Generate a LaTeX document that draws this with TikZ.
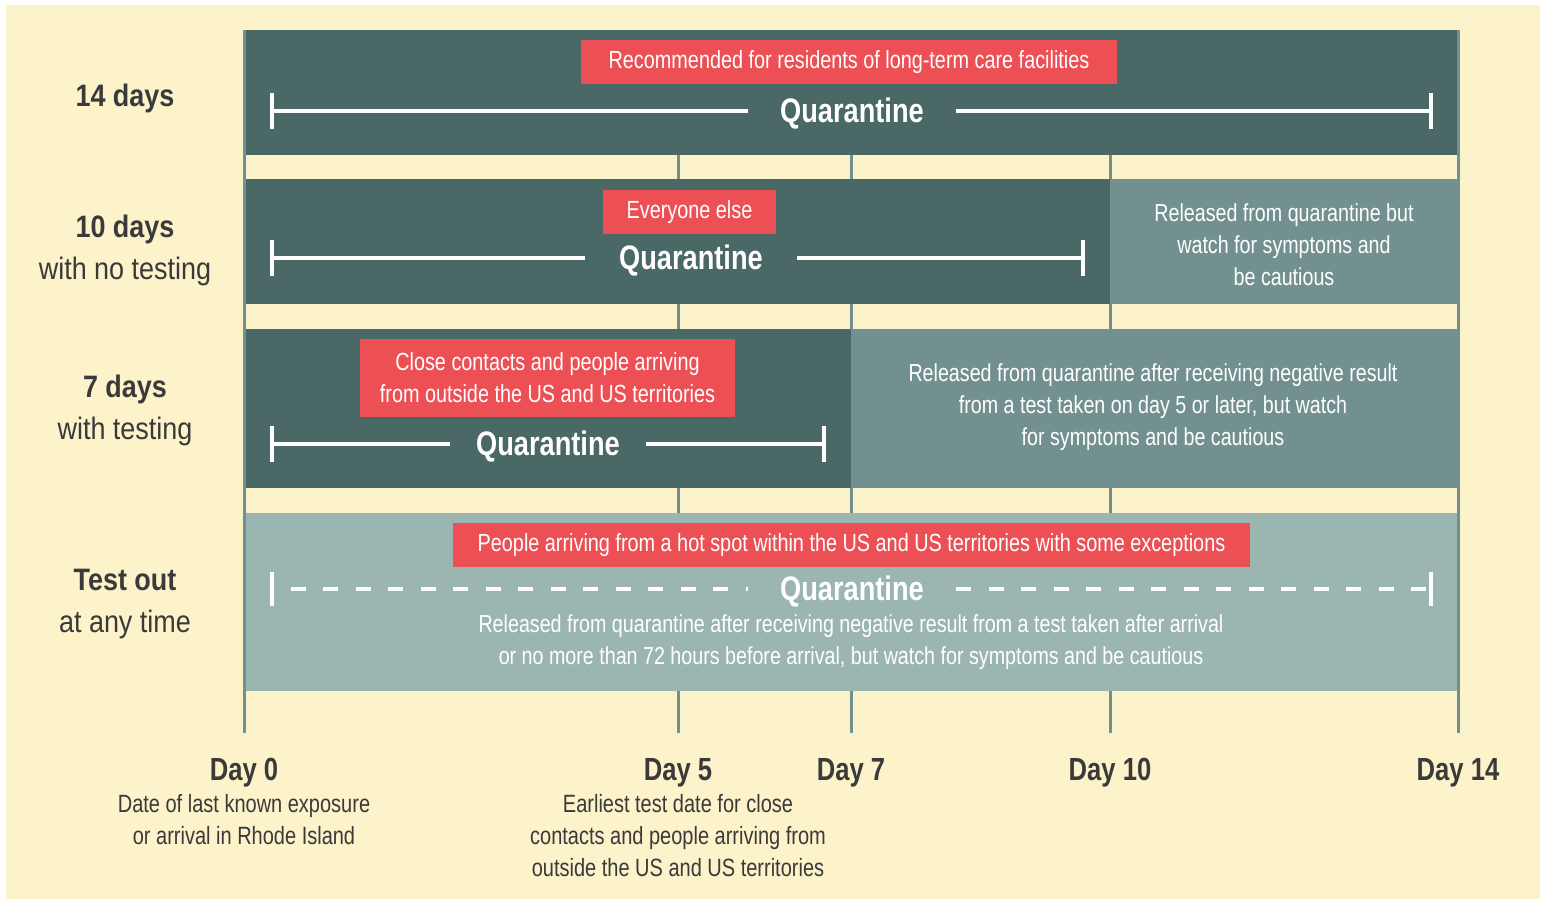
\documentclass[tikz,border=0pt]{standalone}
\usepackage{fontspec}
\setmainfont[FakeStretch=0.8]{Liberation Sans}
\newfontfamily\labelfont[FakeStretch=0.87]{Liberation Sans}
\usetikzlibrary{arrows.meta}
\definecolor{cream}{HTML}{FCF3CB}
\definecolor{darkteal}{HTML}{4A6866}
\definecolor{midteal}{HTML}{72908F}
\definecolor{lightteal}{HTML}{9BB5B1}
\definecolor{tagred}{HTML}{EC5055}
\definecolor{ink}{HTML}{3A3A3A}
\begin{document}
\begin{tikzpicture}[x=0.5pt,y=-0.5pt,
    tag/.style={fill=tagred,text=white,align=center,inner sep=0pt,font=\fontsize{12.4}{16}\selectfont},
    qlabel/.style={text=white,inner sep=0pt,minimum width=104pt,yshift=-1.5pt,font=\bfseries\fontsize{17}{20}\selectfont},
    bar/.style={white,line width=2.2pt},
    note/.style={text=white,align=center,yshift=-0.5pt,font=\fontsize{12.3}{16}\selectfont},
    rowlabel/.style={text=ink,align=center,yshift=-1.5pt,font=\labelfont\fontsize{15.5}{21}\selectfont},
    daylabel/.style={text=ink,yshift=-1.5pt,font=\bfseries\fontsize{16}{20}\selectfont},
    daynote/.style={text=ink,align=center,font=\fontsize{12.5}{16}\selectfont}]
  \useasboundingbox (0,0) rectangle (1544,901);
  \fill[white] (0,0) rectangle (1544,901);
  \fill[cream] (6,5) rectangle (1540,899);
  \foreach \x in {244,678,851,1110,1458}
    \draw[midteal,line width=1.5pt] (\x,30) -- (\x,733);
  \fill[darkteal] (245.5,30) rectangle (1456.5,155);
  \fill[darkteal] (245.5,179) rectangle (1110,304);
  \fill[midteal] (1110,179) rectangle (1456.5,304);
  \fill[darkteal] (245.5,329) rectangle (851,488);
  \fill[midteal] (851,329) rectangle (1456.5,488);
  \fill[lightteal] (245.5,513) rectangle (1456.5,691);

  \begin{scope}[every node/.style=rowlabel]
    \node (r14) at (125,95) {\bfseries 14 days};
    \node (r10) at (125,247) {\bfseries 10 days\\with no testing};
    \node (r7) at (125,407) {\bfseries 7 days\\with testing};
    \node (rtest) at (125,601) {\bfseries Test out\\at any time};
  \end{scope}

  \node[tag,minimum width=268pt,minimum height=22pt] (t14) at (849,62) {Recommended for residents of long-term care facilities};
  \node[tag,minimum width=86.5pt,minimum height=22pt] (t10) at (689.5,212) {Everyone else};
  \node[tag,minimum width=187.5pt,minimum height=39pt] (t7) at (547.5,378) {Close contacts and people arriving\\from outside the US and US territories};
  \node[tag,minimum width=398.5pt,minimum height=22pt] (ttest) at (851.5,545) {People arriving from a hot spot within the US and US territories with some exceptions};

  \node[qlabel] (q14) at (852,111) {Quarantine};
  \node[qlabel,minimum width=106pt] (q10) at (691,258) {Quarantine};
  \node[qlabel,minimum width=98pt] (q7) at (548,444) {Quarantine};
  \node[qlabel] (qtest) at (852,589) {Quarantine};
  \coordinate (q14s) at (270,111);
  \coordinate (q14e) at (1433,111);
  \coordinate (q10s) at (270,258);
  \coordinate (q10e) at (1085,258);
  \coordinate (q7s) at (270,444);
  \coordinate (q7e) at (826,444);
  \coordinate (qtests) at (270,589);
  \coordinate (qteste) at (1433,589);
  \draw[bar,{Bar[width=18pt]}-] (q14s) -- (q14.west |- q14s);
  \draw[bar,-{Bar[width=18pt]}] (q14.east |- q14e) -- (q14e);
  \draw[bar,{Bar[width=18pt]}-] (q10s) -- (q10.west |- q10s);
  \draw[bar,-{Bar[width=18pt]}] (q10.east |- q10e) -- (q10e);
  \draw[bar,{Bar[width=18pt]}-] (q7s) -- (q7.west |- q7s);
  \draw[bar,-{Bar[width=18pt]}] (q7.east |- q7e) -- (q7e);
  \draw[bar,dash pattern=on 7.5pt off 8.75pt,dash phase=7.5pt,{Bar[width=17pt]}-] (qtests) -- (qtest.west |- qtests);
  \draw[bar,dash pattern=on 7.5pt off 8.75pt,-{Bar[width=17pt]}] (qtest.east |- qteste) -- (qteste);

  \node[note] (n10) at (1284,244) {Released from quarantine but\\watch for symptoms and\\be cautious};
  \node[note] (n7) at (1153,406) {Released from quarantine after receiving negative result\\from a test taken on day 5 or later, but watch\\for symptoms and be cautious};
  \node[note] (ntest) at (851,641) {Released from quarantine after receiving negative result from a test taken after arrival\\or no more than 72 hours before arrival, but watch for symptoms and be cautious};

  \begin{scope}[every node/.style=daylabel]
    \node (d0) at (244,770) {Day 0};
    \node (d5) at (678,770) {Day 5};
    \node (d7) at (851,770) {Day 7};
    \node (d10) at (1110,770) {Day 10};
    \node (d14) at (1458,770) {Day 14};
  \end{scope}
  \node[daynote] (e0) at (244,820) {Date of last known exposure\\or arrival in Rhode Island};
  \node[daynote] (e5) at (678,836) {Earliest test date for close\\contacts and people arriving from\\outside the US and US territories};
\end{tikzpicture}
\end{document}
